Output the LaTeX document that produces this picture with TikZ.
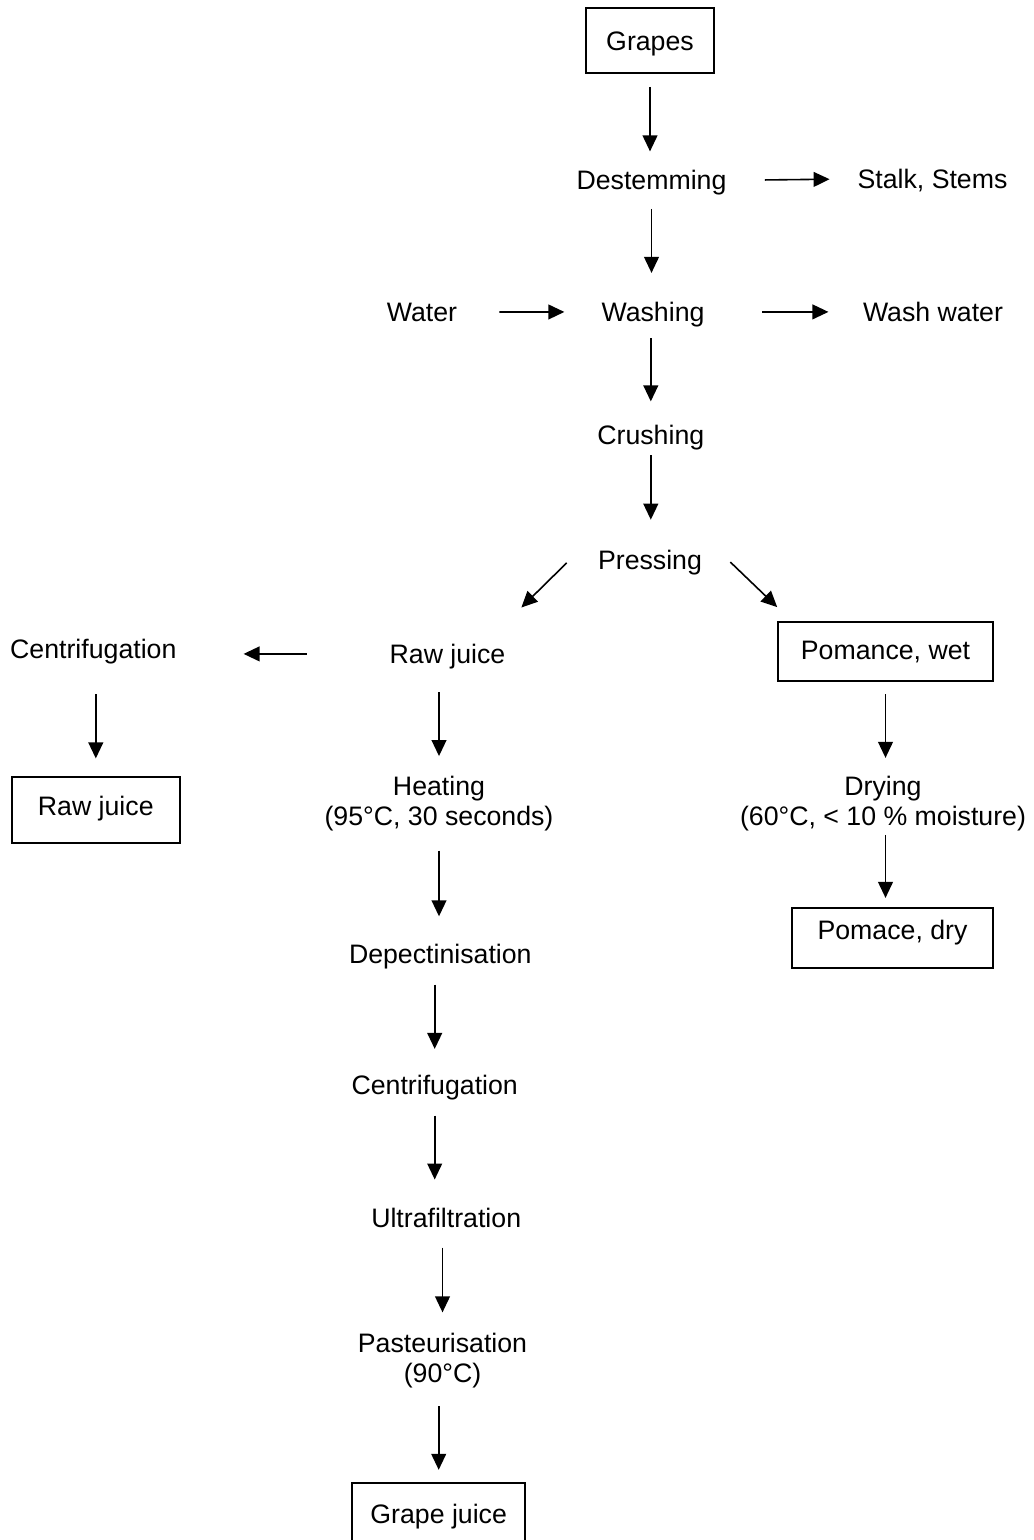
\documentclass[tikz,border=0pt]{standalone}
\usepackage{fontspec}
\setmainfont{Liberation Sans}
\usetikzlibrary{arrows.meta}

\tikzset{
  stage/.style={inner sep=0pt, text height=9.6pt, text depth=0pt},
  twoline/.style={inner sep=0pt, align=center},
  product/.style={draw, line width=0.9pt, inner sep=0pt, text height=9.6pt},
  flow/.style={->, line width=0.8pt},
}

\begin{document}
\begin{tikzpicture}[x=0.5pt, y=-0.5pt, >={Triangle[length=8pt,width=7.4pt]},
  every node/.style={font=\fontsize{13.35}{15}\selectfont}]
\useasboundingbox (0,0) rectangle (1033,1540);

\node[product, minimum width=64pt, minimum height=32.5pt, text depth=0pt] (grapes) at (650,40.5) {Grapes};
\node[stage] (destem) at (651.5,180.4) {Destemming};
\node[stage] (stalks) at (932.5,178.9) {Stalk, Stems};
\node[stage] (water) at (422,312.1) {Water};
\node[stage] (washing) at (653,311.9) {Washing};
\node[stage] (washwater) at (933,311.9) {Wash water};
\node[stage] (crushing) at (650.8,434.4) {Crushing};
\node[stage] (pressing) at (650,559.7) {Pressing};

\node[stage] (rawjuice) at (447.5,653.9) {Raw juice};
\node[stage] (centrifleft) at (93.3,648.4) {Centrifugation};
\node[product, minimum width=84.2pt, minimum height=33pt, text depth=3.8pt] (rawjuicebox) at (95.8,809.7) {Raw juice};
\node[twoline] (heating) at (439,803.3) {Heating\\(95°C, 30 seconds)};
\node[stage] (depect) at (440.3,953.9) {Depectinisation};
\node[stage] (centrif) at (434.7,1084.7) {Centrifugation};
\node[stage] (ultra) at (446.2,1218.1) {Ultrafiltration};
\node[twoline] (pasteur) at (442.5,1360.8) {Pasteurisation\\(90°C)};
\node[product, minimum width=86.35pt, minimum height=32pt, text depth=1.3pt] (grapejuice) at (438.7,1515.3) {Grape juice};

\node[product, minimum width=107.8pt, minimum height=29.5pt, text depth=1.8pt] (pomwet) at (885.5,651.5) {Pomance, wet};
\node[twoline] (drying) at (883,803.1) {Drying\\(60°C, < 10 \% moisture)};
\node[product, minimum width=100.8pt, minimum height=30pt, text depth=8.6pt] (pomdry) at (892.5,938) {Pomace, dry};

% top of the line
\draw[flow, shorten <=6.5pt, shorten >=9.5pt] (grapes.south) -- (grapes.south |- destem.north);
\draw[flow, shorten <=19pt, shorten >=13.8pt] (destem.east) -- (stalks.west);
\draw[flow, shorten <=9.2pt, shorten >=14.5pt] (destem.south) -- (destem.south |- washing.north);
\draw[flow, shorten <=20.9pt, shorten >=18.4pt] (water.east) -- (washing.west);
\draw[flow, shorten <=28.7pt, shorten >=17.1pt] (washing.east) -- (washwater.west);
\draw[flow, shorten <=8.2pt, shorten >=11.5pt] (crushing.north |- washing.south) -- (crushing.north);
\draw[flow, shorten <=5.5pt, shorten >=15pt] (crushing.south) -- (crushing.south |- pressing.north);
\draw[flow] ([xshift=-15.5pt,yshift=-1.6pt]pressing.west) -- ([xshift=7.8pt,yshift=18.2pt]rawjuice.north east);
\draw[flow] ([xshift=14pt,yshift=-1.2pt]pressing.east) -- ([xshift=0.2pt,yshift=7pt]pomwet.north west);

% juice side
\draw[flow, shorten <=41.2pt, shorten >=33.4pt] (rawjuice.west) -- (rawjuice.west -| centrifleft.east);
\draw[flow, shorten <=18pt, shorten >=8.7pt] (centrifleft.south -| rawjuicebox.north) -- (rawjuicebox.north);
\draw[flow, shorten <=14.1pt, shorten >=9.7pt] (rawjuice.south -| heating.north) -- (heating.north);
\draw[flow, shorten <=9.7pt, shorten >=13.8pt] (heating.south) -- (heating.south |- depect.north);
\draw[flow, shorten <=10.3pt, shorten >=12.9pt] (depect.south -| centrif.north) -- (centrif.north);
\draw[flow, shorten <=10.4pt, shorten >=14.3pt] (centrif.south) -- (centrif.south |- ultra.north);
\draw[flow, shorten <=9.8pt, shorten >=10.3pt] (ultra.south -| pasteur.north) -- (pasteur.north);
\draw[flow, shorten <=8.7pt, shorten >=6.3pt] (pasteur.south -| grapejuice.north) -- (grapejuice.north);

% pomace side
\draw[flow, shorten <=6.2pt, shorten >=8.7pt] (pomwet.south) -- (pomwet.south |- drying.north);
\draw[flow, shorten <=2pt, shorten >=4.6pt] (drying.south -| pomwet.south) -- (pomdry.north -| pomwet.south);
\end{tikzpicture}
\end{document}
